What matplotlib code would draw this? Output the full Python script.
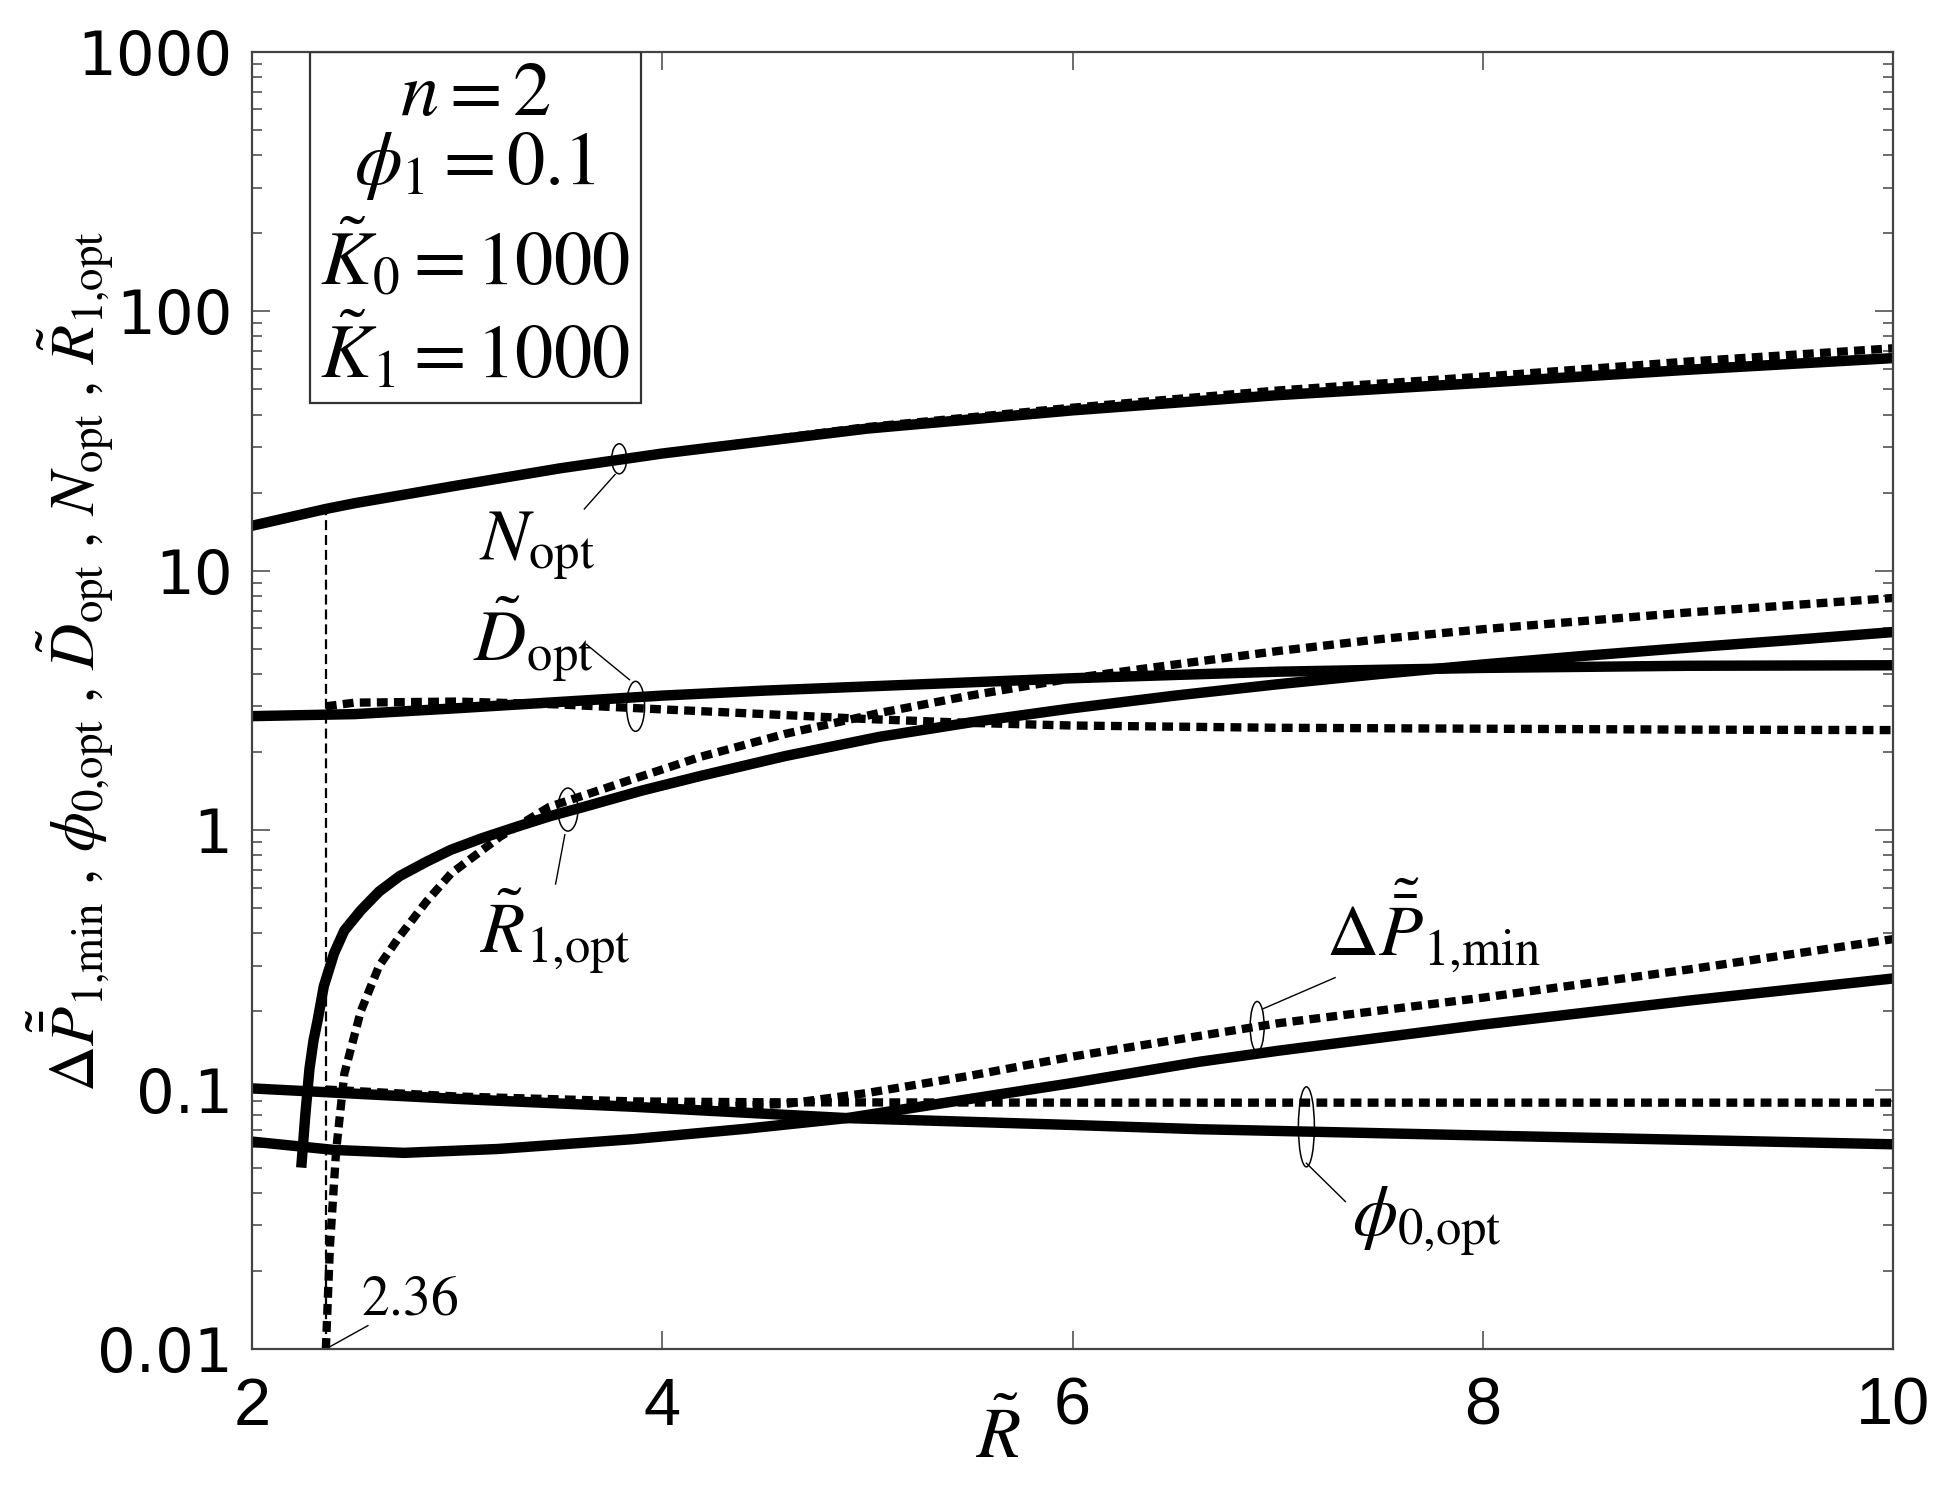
"""
optimum design curves vs R~ (n=2, phi1=0.1, K0=K1=1000)
solid / dashed pairs on a log axis, labelled with small rings + leader lines
"""
import matplotlib
matplotlib.use("Agg")
import matplotlib.pyplot as plt
from matplotlib.patches import Ellipse, Rectangle
from matplotlib.transforms import ScaledTranslation

plt.rcParams["mathtext.fontset"] = "stix"
plt.rcParams["font.family"] = ["Liberation Sans", "DejaVu Sans"]

R_MARK = 2.36

# ---- N_opt ----
x_n = [2, 2.36, 2.5, 3, 3.5, 4, 5, 6, 7, 8, 9, 10]
n_solid = [14.9, 17.3, 18.2, 21.3, 24.8, 28.3, 35.3, 41.5, 47.5, 53, 59.5, 66]
x_n_d = [2.36, 2.5, 3, 3.5, 4, 5, 6, 7, 8, 9, 10]
n_dash = [17.3, 18.2, 21.3, 24.8, 28.3, 35.8, 42.5, 49.5, 56, 64, 72]

# ---- D_opt ----
x_d = [2, 2.5, 3, 3.5, 4, 4.5, 5, 6, 7, 8, 9, 10]
d_solid = [2.75, 2.8, 2.95, 3.12, 3.3, 3.45, 3.58, 3.85, 4.08, 4.22, 4.3, 4.32]
x_d_d = [2.36, 2.5, 3, 3.5, 4, 4.5, 5, 5.5, 6, 7, 8, 9, 10]
d_dash = [3.0, 3.1, 3.13, 3.05, 2.92, 2.8, 2.68, 2.59, 2.53, 2.48, 2.46, 2.44, 2.43]

# ---- R1_opt ----
x_r = [2.24, 2.26, 2.28, 2.3, 2.32, 2.35, 2.4, 2.45, 2.53, 2.62, 2.72, 2.85, 2.97, 3.12,
       3.29, 3.45, 3.62, 3.9, 4.19, 4.6, 5.06, 5.5, 6, 6.5, 7, 7.5, 8, 8.5, 9, 9.5, 10]
r_solid = [0.05, 0.08, 0.12, 0.155, 0.185, 0.25, 0.335, 0.41, 0.49, 0.58, 0.665, 0.755, 0.84,
           0.93, 1.03, 1.13, 1.23, 1.42, 1.62, 1.93, 2.29, 2.6, 2.95, 3.3, 3.65, 4.0, 4.35,
           4.7, 5.05, 5.4, 5.8]
x_r_d = [2.36, 2.38, 2.41, 2.45, 2.53, 2.62, 2.72, 2.85, 2.97, 3.21, 3.45, 3.8, 4.19, 4.6,
         5.06, 5.5, 6, 6.5, 7, 7.5, 8, 9, 10]
r_dash = [0.01, 0.025, 0.058, 0.115, 0.2, 0.3, 0.39, 0.53, 0.68, 0.944, 1.23, 1.52, 1.92, 2.35,
          2.83, 3.3, 3.85, 4.35, 4.9, 5.45, 5.95, 6.9, 7.85]

# ---- dP1_min ----
x_p = [2, 2.4, 2.74, 3.2, 3.86, 4.4, 4.9, 5.5, 6, 6.62, 7, 8, 9, 10]
p_solid = [0.063, 0.0585, 0.057, 0.059, 0.0644, 0.0705, 0.0776, 0.092, 0.106, 0.128, 0.141,
           0.178, 0.22, 0.268]
x_p_d = [2.36, 3, 3.86, 4.3, 4.6, 5, 5.5, 6, 6.62, 7, 8, 9, 10]
p_dash = [0.098, 0.092, 0.087, 0.086, 0.088, 0.097, 0.113, 0.134, 0.161, 0.18, 0.226, 0.29, 0.38]

# ---- phi0_opt ----
x_f = [2, 3, 3.86, 4.9, 6, 6.62, 8, 10]
f_solid = [0.101, 0.092, 0.0858, 0.0776, 0.073, 0.0703, 0.0665, 0.0615]
x_f_d = [2.36, 3, 3.86, 4.5, 6, 8, 10]
f_dash = [0.1, 0.094, 0.09, 0.0893, 0.089, 0.089, 0.089]

YTICKS = [0.01, 0.1, 1, 10, 100, 1000]
YTICKLABELS = ["0.01", "0.1", "1", "10", "100", "1000"]
XTICKS = [2, 4, 6, 8, 10]

fig = plt.figure(figsize=(19.46, 14.95), dpi=100)
ax = fig.add_axes([0.1295, 0.0977, 0.8433, 0.8676])
ax.set_yscale("log")

SOL = dict(color="k", lw=7.5, solid_capstyle="butt", solid_joinstyle="round")
DSH = dict(color="k", lw=6.0, dashes=(1.3, 0.75), dash_capstyle="butt")

for xs, ys, xd, yd in [(x_n, n_solid, x_n_d, n_dash), (x_d, d_solid, x_d_d, d_dash),
                       (x_r, r_solid, x_r_d, r_dash), (x_p, p_solid, x_p_d, p_dash),
                       (x_f, f_solid, x_f_d, f_dash)]:
    ax.plot(xs, ys, **SOL)
    ax.plot(xd, yd, **DSH)

# marker line at R~ = 2.36
ax.plot([R_MARK, R_MARK], [0.01, n_solid[1]], color="k", lw=1.6, dashes=(4.5, 2.2))

ax.set_xlim(2, 10)
ax.set_ylim(0.01, 1000)
ax.set_xticks(XTICKS)
ax.set_xticklabels([str(v) for v in XTICKS])
ax.set_yticks(YTICKS)
ax.set_yticklabels(YTICKLABELS, fontfamily="DejaVu Sans")
ax.tick_params(which="both", direction="in", top=True, right=True, width=1.1, color="#444")
ax.tick_params(which="major", length=13)
ax.tick_params(which="minor", length=7)
ax.tick_params(axis="x", labelsize=48, pad=20)
ax.tick_params(axis="y", labelsize=44, pad=14)
ax.minorticks_on()
ax.xaxis.set_tick_params(which="minor", bottom=False, top=False)
for s in ax.spines.values():
    s.set_linewidth(1.6)
    s.set_color("#444")


def ring(x, y, w, h):
    tr = fig.dpi_scale_trans + ScaledTranslation(x, y, ax.transData)
    ax.add_patch(Ellipse((0, 0), w / 100, h / 100, transform=tr, fill=False,
                         lw=1.1, ec="k", clip_on=False, zorder=5))


def leader(x0, y0, x1, y1):
    ax.plot([x0, x1], [y0, y1], color="k", lw=1.0)


LBL = 52
# N_opt
ring(3.79, 27, 15, 30)
leader(3.62, 17.3, 3.77, 23.5)
ax.text(3.39, 12.5, r"$N_{\mathrm{opt}}$", fontsize=LBL, ha="center", va="center")
# D_opt
ring(3.87, 3.0, 18, 50)
leader(3.63, 5.2, 3.84, 3.8)
ax.text(3.37, 5.5, r"$\tilde{D}_{\mathrm{opt}}$", fontsize=LBL, ha="center", va="center")
# R1_opt
ring(3.54, 1.2, 20, 43)
leader(3.48, 0.62, 3.525, 0.96)
ax.text(3.48, 0.41, r"$\tilde{R}_{1{,}\mathrm{opt}}$", fontsize=LBL, ha="center",
        va="center")
# dP
ring(6.9, 0.175, 14, 50)
leader(7.28, 0.27, 6.93, 0.205)
ax.text(7.76, 0.43, r"$\Delta\tilde{\bar{P}}_{1{,}\min}$", fontsize=LBL, ha="center",
        va="center")
# phi0
ring(7.14, 0.0718, 16, 80)
leader(7.14, 0.052, 7.33, 0.037)
ax.text(7.73, 0.031, r"$\phi_{0{,}\mathrm{opt}}$", fontsize=LBL, ha="center", va="center")
# 2.36
leader(2.565, 0.0123, 2.37, 0.0101)
ax.text(2.77, 0.0154, r"$2.36$", fontsize=40, ha="center", va="center")

# parameter box
ax.add_patch(Rectangle((0.0356, 0.729), 0.2012, 0.271, transform=ax.transAxes,
                       fill=False, lw=1.6, ec="#333", zorder=6))
bx = 0.136
for yy, s in [(0.966, r"$n = 2$"), (0.912, r"$\phi_1 = 0.1$"),
              (0.840, r"$\tilde{K}_0 = 1000$"), (0.768, r"$\tilde{K}_1 = 1000$")]:
    ax.text(bx, yy, s, fontsize=55, ha="center", va="center", transform=ax.transAxes)

ax.set_xlabel(r"$\tilde{R}$", fontsize=52)
ax.xaxis.set_label_coords(0.455, -0.043)
fig.text(70 / 1946, 1 - 662 / 1495,
         r"$\Delta\tilde{\bar{P}}_{1{,}\min}\ ,\,\phi_{0{,}\mathrm{opt}}\ ,\,"
         r"\tilde{D}_{\mathrm{opt}}\ ,\,N_{\mathrm{opt}}\ ,\,\tilde{R}_{1{,}\mathrm{opt}}$",
         rotation=90, fontsize=46, ha="center", va="center")

fig.savefig("out.png", dpi=100)
